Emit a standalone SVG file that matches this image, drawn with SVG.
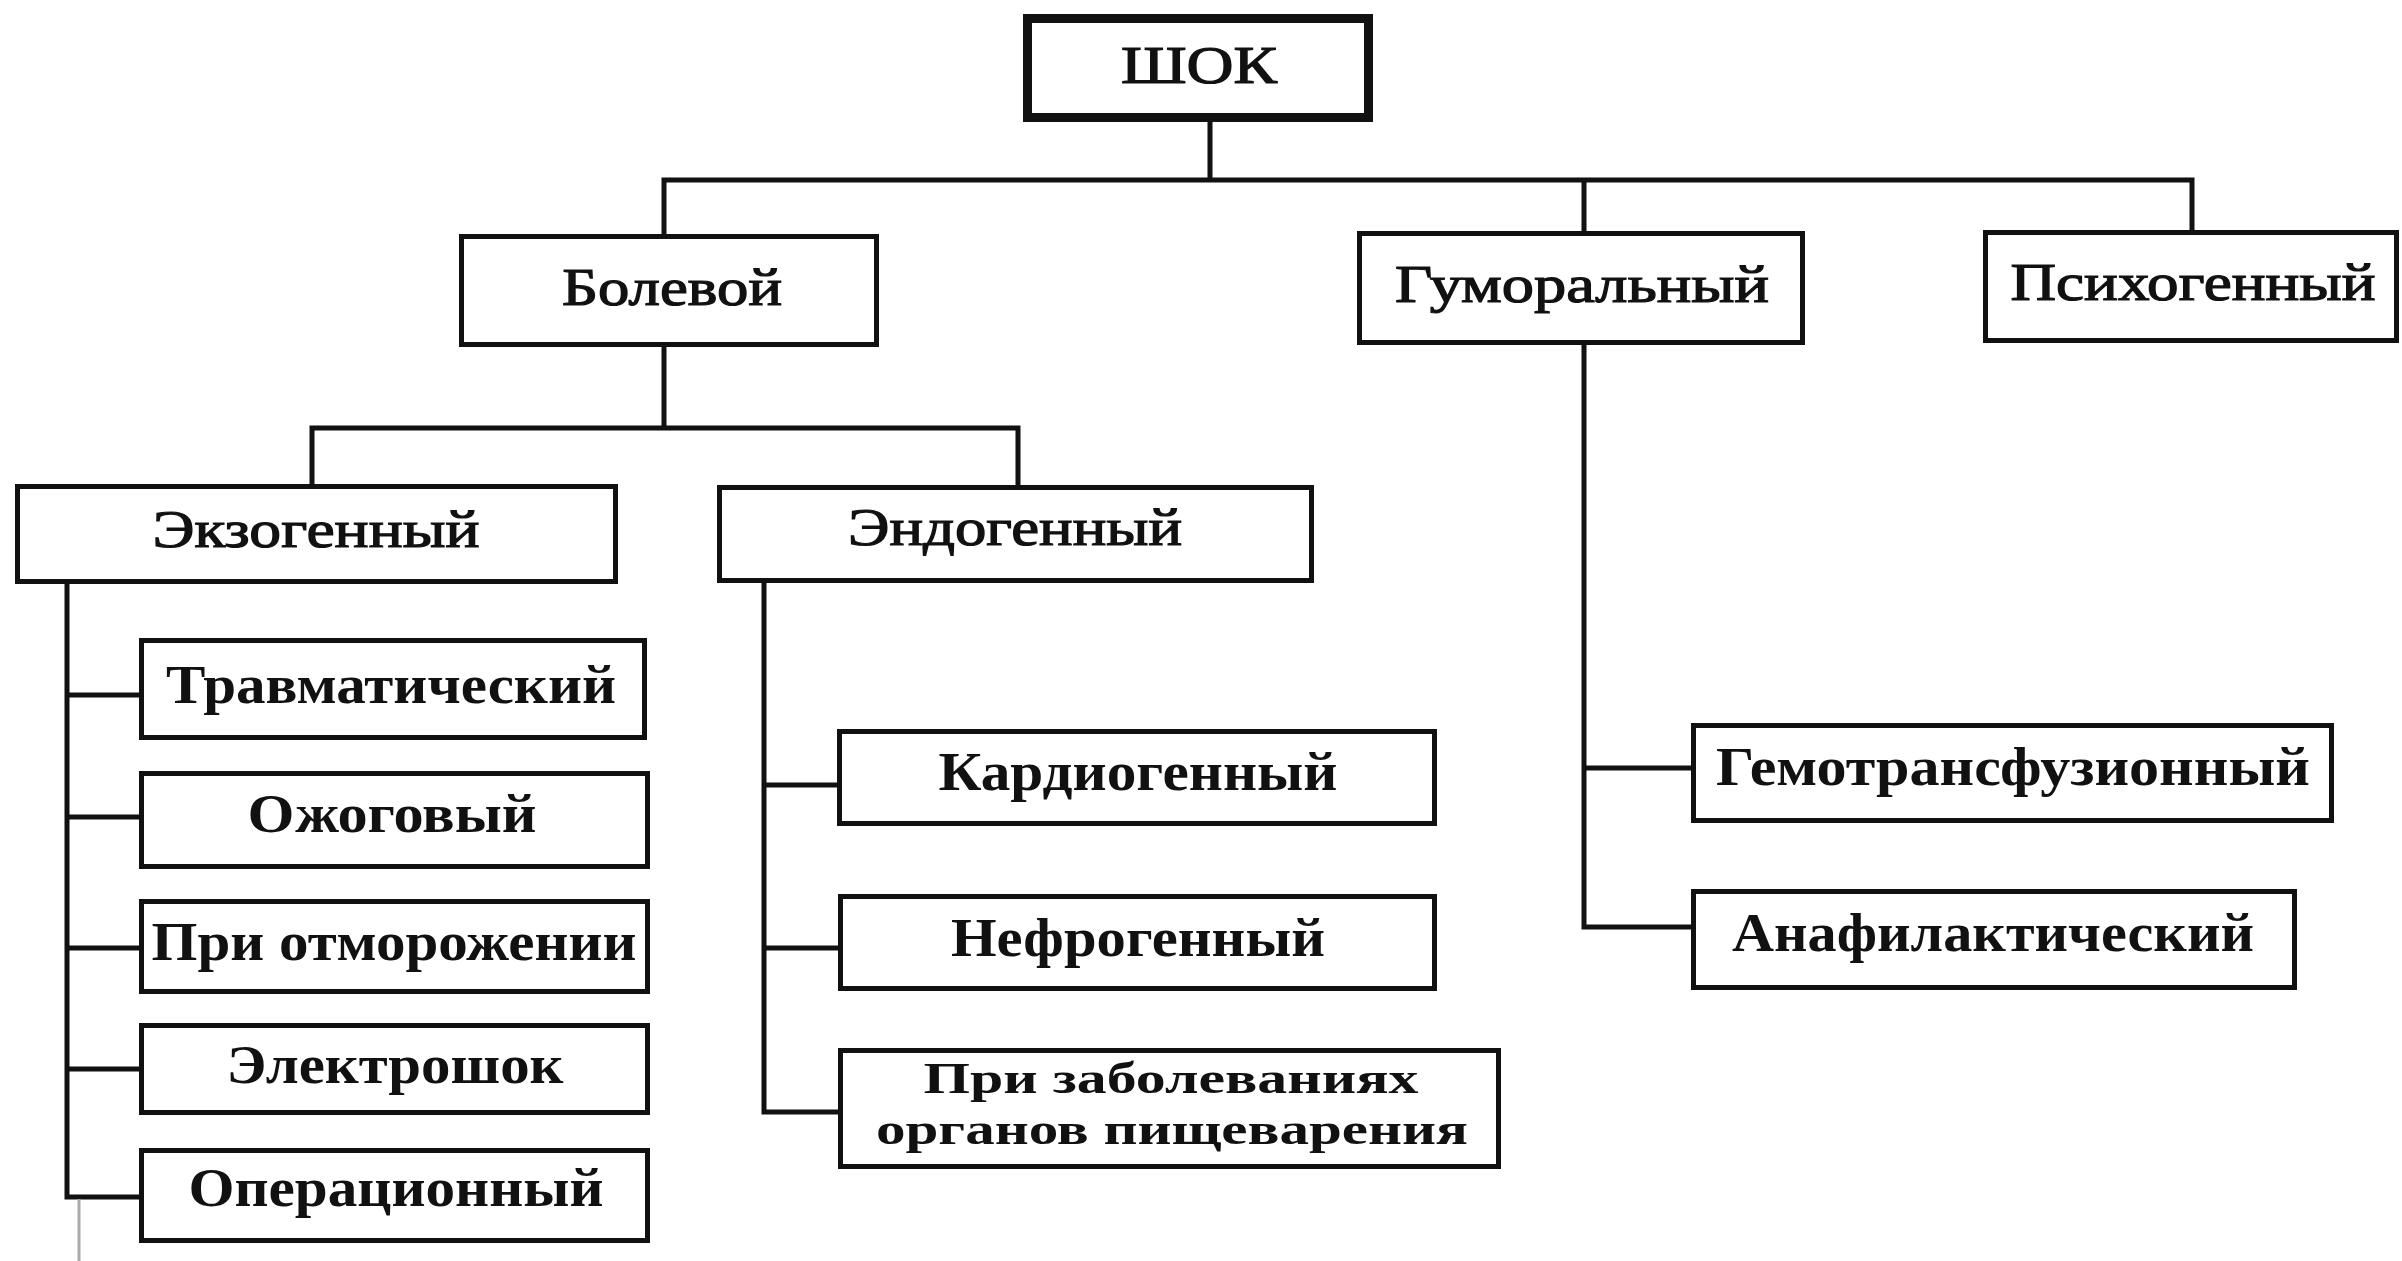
<svg xmlns="http://www.w3.org/2000/svg" width="2402" height="1261" viewBox="0 0 2402 1261">
<style>
.box{fill:#fff;stroke:#111;stroke-width:5}
.root{fill:#fff;stroke:#111;stroke-width:9}
.c{fill:none;stroke:#111;stroke-width:5;stroke-linecap:square}
.t{font-family:"Liberation Serif","DejaVu Serif",serif;font-size:52px;fill:#111;stroke:#111;stroke-width:1.2;text-anchor:middle}
.b{font-family:"Liberation Serif","DejaVu Serif",serif;font-size:54px;font-weight:bold;fill:#111;text-anchor:middle}
.s{font-size:45px}
</style>
<rect width="2402" height="1261" fill="#fff"/>
<g id="connectors">
<path class="c" d="M1210 122V180M664 180H2192M664 180V234M1584 180V231M2192 180V230"/>
<path class="c" d="M664 347V428M312 428H1018M312 428V484M1018 428V485"/>
<path class="c" d="M67 584V1197H139M67 695H139M67 817H139M67 948H139M67 1069H139"/>
<path class="c" d="M764 583V1112H838M764 785H838M764 948H838"/>
<path class="c" d="M1584 345V927H1691M1584 768H1691"/>
<path d="M79 1199V1261" stroke="#aaa" stroke-width="3" fill="none"/>
</g>
<g id="shock"><rect class="root" x="1027.5" y="18.5" width="341" height="99"/><text class="t" x="1199" y="83" textLength="156" lengthAdjust="spacingAndGlyphs">ШОК</text></g>
<g id="bolevoy"><rect class="box" x="461.5" y="236.5" width="415" height="108"/><text class="t" x="672" y="305" textLength="220" lengthAdjust="spacingAndGlyphs">Болевой</text></g>
<g id="gumoralny"><rect class="box" x="1359.5" y="233.5" width="443" height="109"/><text class="t" x="1582" y="302" textLength="374" lengthAdjust="spacingAndGlyphs">Гуморальный</text></g>
<g id="psikhogenny"><rect class="box" x="1985.5" y="232.5" width="411" height="108"/><text class="t" x="2193" y="300" textLength="365" lengthAdjust="spacingAndGlyphs">Психогенный</text></g>
<g id="ekzogenny"><rect class="box" x="17.5" y="486.5" width="598" height="95"/><text class="t" x="316" y="547" textLength="327" lengthAdjust="spacingAndGlyphs">Экзогенный</text></g>
<g id="endogenny"><rect class="box" x="719.5" y="487.5" width="592" height="93"/><text class="t" x="1015" y="545" textLength="334" lengthAdjust="spacingAndGlyphs">Эндогенный</text></g>
<g id="travmaticheskiy"><rect class="box" x="141.5" y="640.5" width="503" height="97"/><text class="b" x="391" y="703" textLength="450" lengthAdjust="spacingAndGlyphs">Травматический</text></g>
<g id="ozhogovy"><rect class="box" x="141.5" y="773.5" width="506" height="93"/><text class="b" x="392" y="832" textLength="289" lengthAdjust="spacingAndGlyphs">Ожоговый</text></g>
<g id="otmorozhenie"><rect class="box" x="141.5" y="901.5" width="506" height="90"/><text class="b" x="394" y="960" textLength="485" lengthAdjust="spacingAndGlyphs">При отморожении</text></g>
<g id="elektroshok"><rect class="box" x="141.5" y="1025.5" width="506" height="87"/><text class="b" x="395" y="1083" textLength="337" lengthAdjust="spacingAndGlyphs">Электрошок</text></g>
<g id="operatsionny"><rect class="box" x="141.5" y="1150.5" width="506" height="90"/><text class="b" x="396" y="1206" textLength="415" lengthAdjust="spacingAndGlyphs">Операционный</text></g>
<g id="kardiogenny"><rect class="box" x="839.5" y="731.5" width="595" height="92"/><text class="b" x="1138" y="790" textLength="399" lengthAdjust="spacingAndGlyphs">Кардиогенный</text></g>
<g id="nefrogenny"><rect class="box" x="840.5" y="896.5" width="594" height="92"/><text class="b" x="1138" y="956" textLength="374" lengthAdjust="spacingAndGlyphs">Нефрогенный</text></g>
<g id="pishchevarenie"><rect class="box" x="840.5" y="1050.5" width="658" height="116"/><text class="b s" x="1171" y="1093" textLength="495" lengthAdjust="spacingAndGlyphs">При заболеваниях</text><text class="b s" x="1172" y="1144" textLength="592" lengthAdjust="spacingAndGlyphs">органов пищеварения</text></g>
<g id="gemotransfuzionny"><rect class="box" x="1693.5" y="725.5" width="638" height="95"/><text class="b" x="2013" y="785" textLength="594" lengthAdjust="spacingAndGlyphs">Гемотрансфузионный</text></g>
<g id="anafilakticheskiy"><rect class="box" x="1693.5" y="891.5" width="601" height="96"/><text class="b" x="1993" y="951" textLength="522" lengthAdjust="spacingAndGlyphs">Анафилактический</text></g>
</svg>
